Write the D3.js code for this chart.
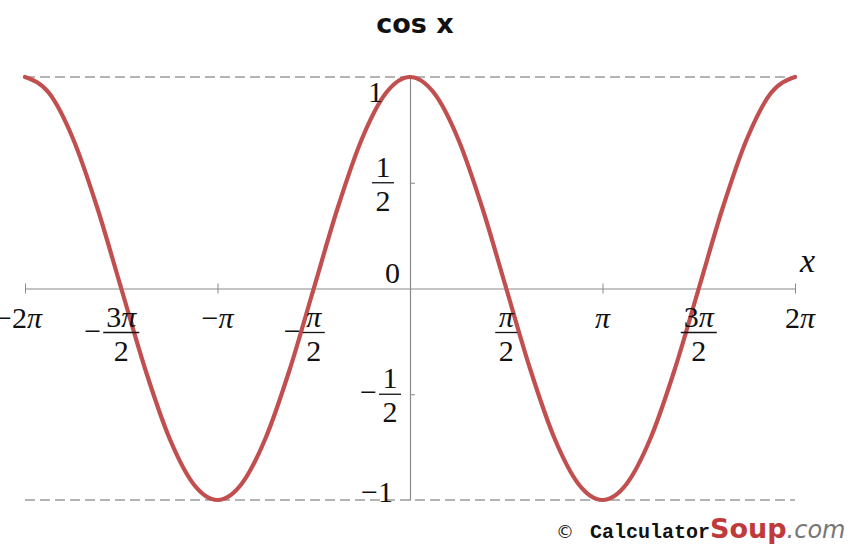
<!DOCTYPE html>
<html>
<head>
<meta charset="utf-8">
<script src="https://cdn.jsdelivr.net/npm/d3@7"></script>
<style>
  body { margin: 0; background: #fff; }
  svg { display: block; }
</style>
</head>
<body>
<div id="chart"></div>
<script>
(() => {
"use strict";

const WIDTH = 853, HEIGHT = 545;

// x values are in units of pi
const curveX = [-2, -1.875, -1.75, -1.625, -1.5, -1.375, -1.25, -1.125, -1,
  -0.875, -0.75, -0.625, -0.5, -0.375, -0.25, -0.125, 0,
  0.125, 0.25, 0.375, 0.5, 0.625, 0.75, 0.875, 1,
  1.125, 1.25, 1.375, 1.5, 1.625, 1.75, 1.875, 2];
const curveY = [1, 0.924, 0.707, 0.383, 0, -0.383, -0.707, -0.924, -1,
  -0.924, -0.707, -0.383, 0, 0.383, 0.707, 0.924, 1,
  0.924, 0.707, 0.383, 0, -0.383, -0.707, -0.924, -1,
  -0.924, -0.707, -0.383, 0, 0.383, 0.707, 0.924, 1];

const xTicks = [-2, -1.5, -1, -0.5, 0, 0.5, 1, 1.5, 2];
const xTickLabels = ["\u22122\u03c0", "\u22123\u03c0/2", "\u2212\u03c0", "\u2212\u03c0/2", "", "\u03c0/2", "\u03c0", "3\u03c0/2", "2\u03c0"];
const yTicks = [-1, -0.5, 0, 0.5, 1];
const yTickLabels = ["\u22121", "\u22121/2", "0", "1/2", "1"];
const refLines = [1, -1];

const title = "cos x";
const xTitle = "x";

const RED = "#c24f50";
const SERIF = "'Liberation Serif', 'Times New Roman', serif";

let svg = d3.select("#chart").append("svg")
  .attr("width", WIDTH)
  .attr("height", HEIGHT);

let x = d3.scaleLinear().domain([-2, 2]).range([25, 795]);
let y = d3.scaleLinear().domain([-1, 1]).range([500, 77]);

// dashed reference lines at +1 and -1
svg.selectAll("line.ref")
  .data(refLines)
  .join("line")
  .attr("class", "ref")
  .attr("x1", x(-2)).attr("x2", x(2))
  .attr("y1", d => y(d)).attr("y2", d => y(d))
  .attr("stroke", "#9c9c9c")
  .attr("stroke-width", 1.3)
  .attr("stroke-dasharray", "10,5");

// x axis
let xAxis = svg.append("g")
  .attr("transform", `translate(0,${y(0)})`)
  .call(d3.axisBottom(x).tickValues(xTicks).tickSize(5).tickSizeOuter(0).tickFormat(""));
xAxis.select(".domain").attr("stroke", "#8a8a8a").attr("stroke-width", 1.2);
xAxis.selectAll(".tick line").attr("y1", -5).attr("stroke", "#8a8a8a");

// y axis
let yAxis = svg.append("g")
  .attr("transform", `translate(${x(0)},0)`)
  .call(d3.axisLeft(y).tickValues([-0.5, 0.5]).tickSize(5).tickSizeOuter(0).tickFormat(""));
yAxis.select(".domain").attr("stroke", "#8a8a8a").attr("stroke-width", 1.2);
yAxis.selectAll(".tick line").attr("x2", 5).attr("stroke", "#8a8a8a");

// the curve
let line = d3.line()
  .x((d, i) => x(curveX[i]))
  .y(d => y(d))
  .curve(d3.curveMonotoneX);

svg.append("path")
  .datum(curveY)
  .attr("d", line)
  .attr("fill", "none")
  .attr("stroke", RED)
  .attr("stroke-width", 4.2)
  .attr("stroke-linecap", "round");

// draws "a", "-a", "a/b" or "-a/b" as stacked math text
function mathLabel(g, str, cx, cy, anchor) {
  let neg = str.startsWith("\u2212");
  let body = neg ? str.slice(1) : str;
  let parts = body.split("/");
  let t = g.append("g").attr("font-family", SERIF).attr("font-size", 30).attr("fill", "#111");
  let styled = s => s.replace("\u03c0", "<tspan font-style='italic'>\u03c0</tspan>");
  if (parts.length === 1) {
    let txt = t.append("text").attr("y", cy + 10).html((neg ? "\u2212" : "") + styled(body));
    let w = txt.node().getComputedTextLength();
    let left = anchor === "end" ? cx - w : anchor === "start" ? cx : cx - w / 2;
    txt.attr("x", left);
    return;
  }
  let num = t.append("text").attr("text-anchor", "middle").attr("y", cy - 6).html(styled(parts[0]));
  t.append("text").attr("text-anchor", "middle").attr("y", cy + 28).text(parts[1]);
  let w = Math.max(num.node().getComputedTextLength(), 16) + 6;
  let fx = anchor === "end" ? cx - w / 2 : cx;
  t.selectAll("text").attr("x", fx);
  t.append("line")
    .attr("x1", fx - w / 2).attr("x2", fx + w / 2)
    .attr("y1", cy).attr("y2", cy)
    .attr("stroke", "#111").attr("stroke-width", 1.3);
  if (neg) {
    t.append("text").attr("text-anchor", "end")
      .attr("x", fx - w / 2 - 2).attr("y", cy + 8).text("\u2212");
  }
}

// x tick labels
let xl = svg.append("g");
xTicks.forEach((v, i) => {
  let s = xTickLabels[i];
  if (!s) return;
  if (s.includes("/")) mathLabel(xl, s, x(v), y(0) + 44, "middle");
  else if (i === 0) mathLabel(xl, s, x(v) + 17, y(0) + 29, "end");
  else if (i === xTicks.length - 1) mathLabel(xl, s, x(v) - 10, y(0) + 29, "start");
  else mathLabel(xl, s, x(v), y(0) + 29, "middle");
});

// y tick labels
let yl = svg.append("g");
const yShift = { "1": 15, "0": -16, "-1": -8, "0.5": 0, "-0.5": 0 };
const yRight = { "1": 383, "0": 400, "-1": 393, "0.5": 394, "-0.5": 401 };
yTicks.forEach((v, i) => {
  mathLabel(yl, yTickLabels[i], yRight[v], y(v) + yShift[v], "end");
});

// axis title
svg.append("text")
  .attr("x", 800).attr("y", 272)
  .attr("font-family", SERIF)
  .attr("font-style", "italic")
  .attr("font-size", 34)
  .attr("fill", "#111")
  .text(xTitle);

// chart title
svg.append("text")
  .attr("x", 415).attr("y", 33)
  .attr("text-anchor", "middle")
  .attr("font-family", "'DejaVu Sans', Verdana, sans-serif")
  .attr("font-weight", "bold")
  .attr("font-size", 27)
  .attr("fill", "#111")
  .text(title);

// watermark
let wm = svg.append("text").attr("x", 556).attr("y", 538);
wm.append("tspan")
  .attr("font-family", "'DejaVu Sans', sans-serif").attr("font-size", 18).attr("fill", "#222")
  .text("\u00a9");
wm.append("tspan").attr("dx", 16)
  .attr("font-family", "'Liberation Mono', 'Courier New', monospace").attr("font-weight", "bold")
  .attr("font-size", 20).attr("fill", "#111")
  .text("Calculator");
wm.append("tspan")
  .attr("font-family", "'DejaVu Sans', Verdana, sans-serif").attr("font-weight", "bold")
  .attr("font-size", 27).attr("fill", "#c0393b")
  .text("Soup");
wm.append("tspan")
  .attr("font-family", "'DejaVu Sans', Verdana, sans-serif").attr("font-style", "italic")
  .attr("font-size", 24).attr("fill", "#777")
  .text(".com");
})();
</script>
</body>
</html>
